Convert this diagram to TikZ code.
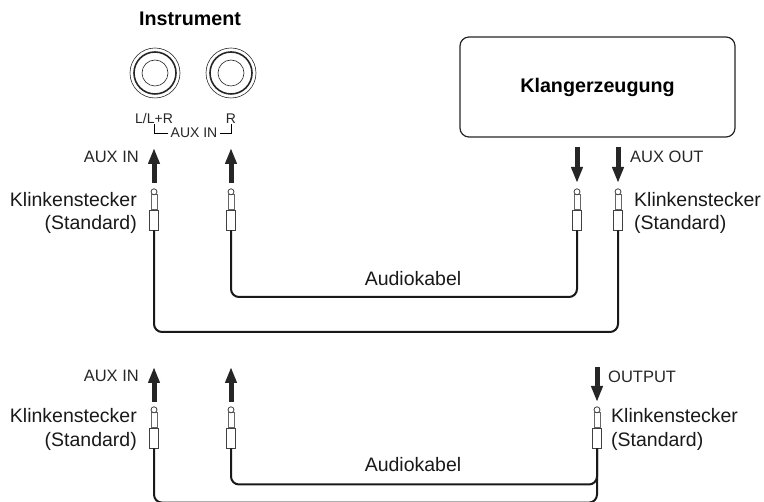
\documentclass[tikz,border=0pt]{standalone}
\usepackage{fontspec}
\setmainfont{Liberation Sans}
\usepackage{tikz}
\usetikzlibrary{arrows.meta, positioning, calc}

\begin{document}
\begin{tikzpicture}[
  x=1pt, y=-1pt,
  >=Stealth,
  jackring/.style={
    circle,
    draw=black!85,
    inner sep=0pt,
    line width=#1,
  },
  plugsleeve/.style={
    draw=black!75,
    fill=white,
    line width=0.8pt,
    inner sep=0pt,
    minimum width=8.5pt,
    minimum height=20pt,
  },
  plugshaft/.style={
    draw=black!60,
    fill=white,
    line width=0.8pt,
    inner sep=0pt,
    minimum width=6pt,
    minimum height=15pt,
  },
  plugtip/.style={
    circle,
    draw=black!75,
    fill=white,
    line width=0.8pt,
    inner sep=0pt,
    minimum size=6pt,
  },
  cable/.style={
    line width=2pt,
    rounded corners=8pt,
    black!90,
  },
  flow/.style={
    -{Triangle[length=16pt, width=11pt]},
    line width=5pt,
    black!85,
  },
  tag/.style={
    font=\fontsize{16.5}{20}\selectfont,
    inner sep=0pt,
    text=black!85,
  },
  jacktag/.style={
    font=\fontsize{14}{17}\selectfont,
    inner sep=0pt,
    text=black!85,
  },
  plugtext/.style={
    font=\fontsize{19.5}{23.5}\selectfont,
    inner sep=0pt,
    text=black!90,
  },
  title/.style={
    font=\fontsize{19.7}{23}\selectfont\bfseries,
    inner sep=0pt,
  },
]
\useasboundingbox (0,0) rectangle (764,502);

% ============================================================
% INSTRUMENT
% ============================================================
\node[title] (instrument) at (190, 19) {Instrument};

\foreach \jackname/\x in {jackL/155, jackR/231} {
  \node[jackring=0.6pt, minimum size=50pt] (\jackname outer) at (\x, 73) {};
  \node[jackring=1.6pt, minimum size=42pt] (\jackname mid) at (\x, 73) {};
  \node[jackring=0.6pt, minimum size=26pt] (\jackname inner) at (\x, 73) {};
}

\node[jacktag] (labelL) at (154, 118.5) {L/L+R};
\node[jacktag] (labelR) at (231, 118.5) {R};
\node[jacktag] (auxin) at (194, 133) {AUX IN};
\draw[line width=0.5pt] ([xshift=-2pt]auxin.west) -| (labelL.south);
\draw[line width=0.5pt] ([xshift=2pt]auxin.east) -| (labelR.south);

% ============================================================
% SOUND SOURCE BOX
% ============================================================
\node[draw=black!85, line width=1.2pt, rounded corners=9pt, fill=white,
      minimum width=275pt, minimum height=100pt, title]
  (klang) at (597.5, 87) {Klangerzeugung};

% ============================================================
% PLUGS
% ============================================================
\foreach \plugname/\x/\y in {plugA/154/220, plugB/231/220, plugC/577/220, plugD/618/220,
                             plugE/154/438, plugF/231/438, plugG/597/438} {
  \node[plugsleeve] (\plugname) at (\x, \y) {};
  \node[plugshaft, above=0pt of \plugname] (\plugname shaft) {};
  \node[plugtip] (\plugname tip) at ($(\plugname shaft.north)+(0,-2)$) {};
}

% ============================================================
% CABLES
% ============================================================
\coordinate (railinner) at (400, 297);
\coordinate (railouter) at (400, 332);
\coordinate (raillower) at (400, 484.5);
\coordinate (railbottom) at (400, 502.6);

\draw[cable] (plugB.south) |- (railinner) -| (plugC.south);
\draw[cable] (plugA.south) |- (railouter) -| (plugD.south);
\draw[cable] (plugF.south) |- (raillower) -| (plugG.south);
\draw[cable] (plugE.south) |- (railbottom) -| (plugG.south);

% ============================================================
% ARROWS
% ============================================================
\coordinate (inAstart) at (154, 183);
\coordinate (inAend) at (154, 148);
\coordinate (inBstart) at (231, 183);
\coordinate (inBend) at (231, 148);
\coordinate (outCstart) at (577, 147);
\coordinate (outCend) at (577, 183);
\coordinate (outDstart) at (618, 147);
\coordinate (outDend) at (618, 183);
\coordinate (inEstart) at (154, 402);
\coordinate (inEend) at (154, 367);
\coordinate (inFstart) at (231, 402);
\coordinate (inFend) at (231, 367);
\coordinate (outGstart) at (597, 367);
\coordinate (outGend) at (597, 402);

\foreach \flowstart/\flowend in {inAstart/inAend, inBstart/inBend, outCstart/outCend,
                                 outDstart/outDend, inEstart/inEend, inFstart/inFend,
                                 outGstart/outGend} {
  \draw[flow] (\flowstart) -- (\flowend);
}

% ============================================================
% LABELS
% ============================================================
\node[tag, anchor=east] (tagA) at (139, 157) {AUX IN};
\node[tag, anchor=west] (tagD) at (630, 157) {AUX OUT};
\node[tag, anchor=east] (tagE) at (139, 376) {AUX IN};
\node[tag, anchor=west] (tagG) at (608, 377) {OUTPUT};

\node[plugtext, align=right, anchor=east] (textA) at (137, 213) {Klinkenstecker\\(Standard)};
\node[plugtext, align=left, anchor=west] (textD) at (634, 213) {Klinkenstecker\\(Standard)};
\node[plugtext, align=right, anchor=east] (textE) at (137, 429.5) {Klinkenstecker\\(Standard)};
\node[plugtext, align=left, anchor=west] (textG) at (611, 429.5) {Klinkenstecker\\(Standard)};

\node[plugtext] (cableA) at (413, 279) {Audiokabel};
\node[plugtext] (cableB) at (413, 465) {Audiokabel};

\end{tikzpicture}
\end{document}
